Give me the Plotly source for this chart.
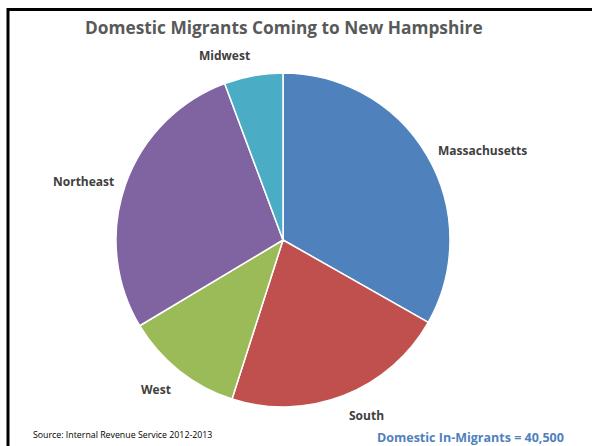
import math
import plotly.graph_objects as go

regions = ["Massachusetts", "South", "West", "Northeast", "Midwest"]
migrants = [13450, 8800, 4650, 11300, 2300]
colors = ["#4F81BD", "#C0504D", "#9BBB59", "#8064A2", "#4BACC6"]

W, H = 592, 446
cx, cy, r = 283, 240, 167
label_gap = 10

fig = go.Figure(go.Pie(
    labels=regions,
    values=migrants,
    sort=False,
    direction="clockwise",
    rotation=0,
    marker=dict(colors=colors, line=dict(color="white", width=1.5)),
    textinfo="none",
    hoverinfo="label+value+percent",
    showlegend=False,
    domain=dict(x=[(cx - r) / W, (cx + r) / W], y=[1 - (cy + r) / H, 1 - (cy - r) / H]),
))

# Outside-end labels placed from slice mid-angles (derived from the values)
annotations = []
total = sum(migrants)
cum = 0
for name, v in zip(regions, migrants):
    mid = (cum + v / 2) / total * 2 * math.pi
    cum += v
    s, c = math.sin(mid), math.cos(mid)
    px = cx + (r + label_gap) * s
    py = cy - (r + label_gap) * c
    xa = "left" if s > 0.1 else ("right" if s < -0.1 else "center")
    ya = "bottom" if c > 0.6 else ("top" if c < -0.6 else "middle")
    annotations.append(dict(
        text="<b>%s</b>" % name, x=px / W, y=1 - py / H, xref="paper", yref="paper",
        showarrow=False, xanchor=xa, yanchor=ya,
        font=dict(family="Open Sans", size=12, color="#404040"),
    ))

annotations += [
    dict(text="<b>Domestic Migrants Coming to New Hampshire</b>", x=284 / W, y=1 - 28 / H,
         xref="paper", yref="paper", showarrow=False,
         font=dict(family="Open Sans", size=17.3, color="#595959"), xanchor="center", yanchor="middle"),
    dict(text="Source: Internal Revenue Service 2012-2013", x=31 / W, y=1 - 435 / H,
         xref="paper", yref="paper", showarrow=False,
         font=dict(family="Open Sans", size=8.8, color="#000000"), xanchor="left", yanchor="middle"),
    dict(text="<b>Domestic In-Migrants = 40,500</b>", x=566 / W, y=1 - 437 / H,
         xref="paper", yref="paper", showarrow=False,
         font=dict(family="Open Sans", size=12.5, color="#4F81BD"), xanchor="right", yanchor="middle"),
]

frame_path = "M {a},{b} L {a},{c} L {d},{c}".format(a=8 / W, b=0, c=1 - 9.5 / H, d=1)

fig.update_layout(
    width=W, height=H,
    margin=dict(l=0, r=0, t=0, b=0),
    paper_bgcolor="white",
    plot_bgcolor="white",
    annotations=annotations,
    shapes=[
        dict(type="path", xref="paper", yref="paper", path=frame_path,
             fillcolor="rgba(0,0,0,0)", line=dict(color="#000000", width=3)),
    ],
)

fig.write_html(
    "out.html",
    config={"displayModeBar": False},
    post_script="document.body.style.margin='0px';document.body.style.overflow='hidden';"
                "document.documentElement.style.overflow='hidden';",
)
